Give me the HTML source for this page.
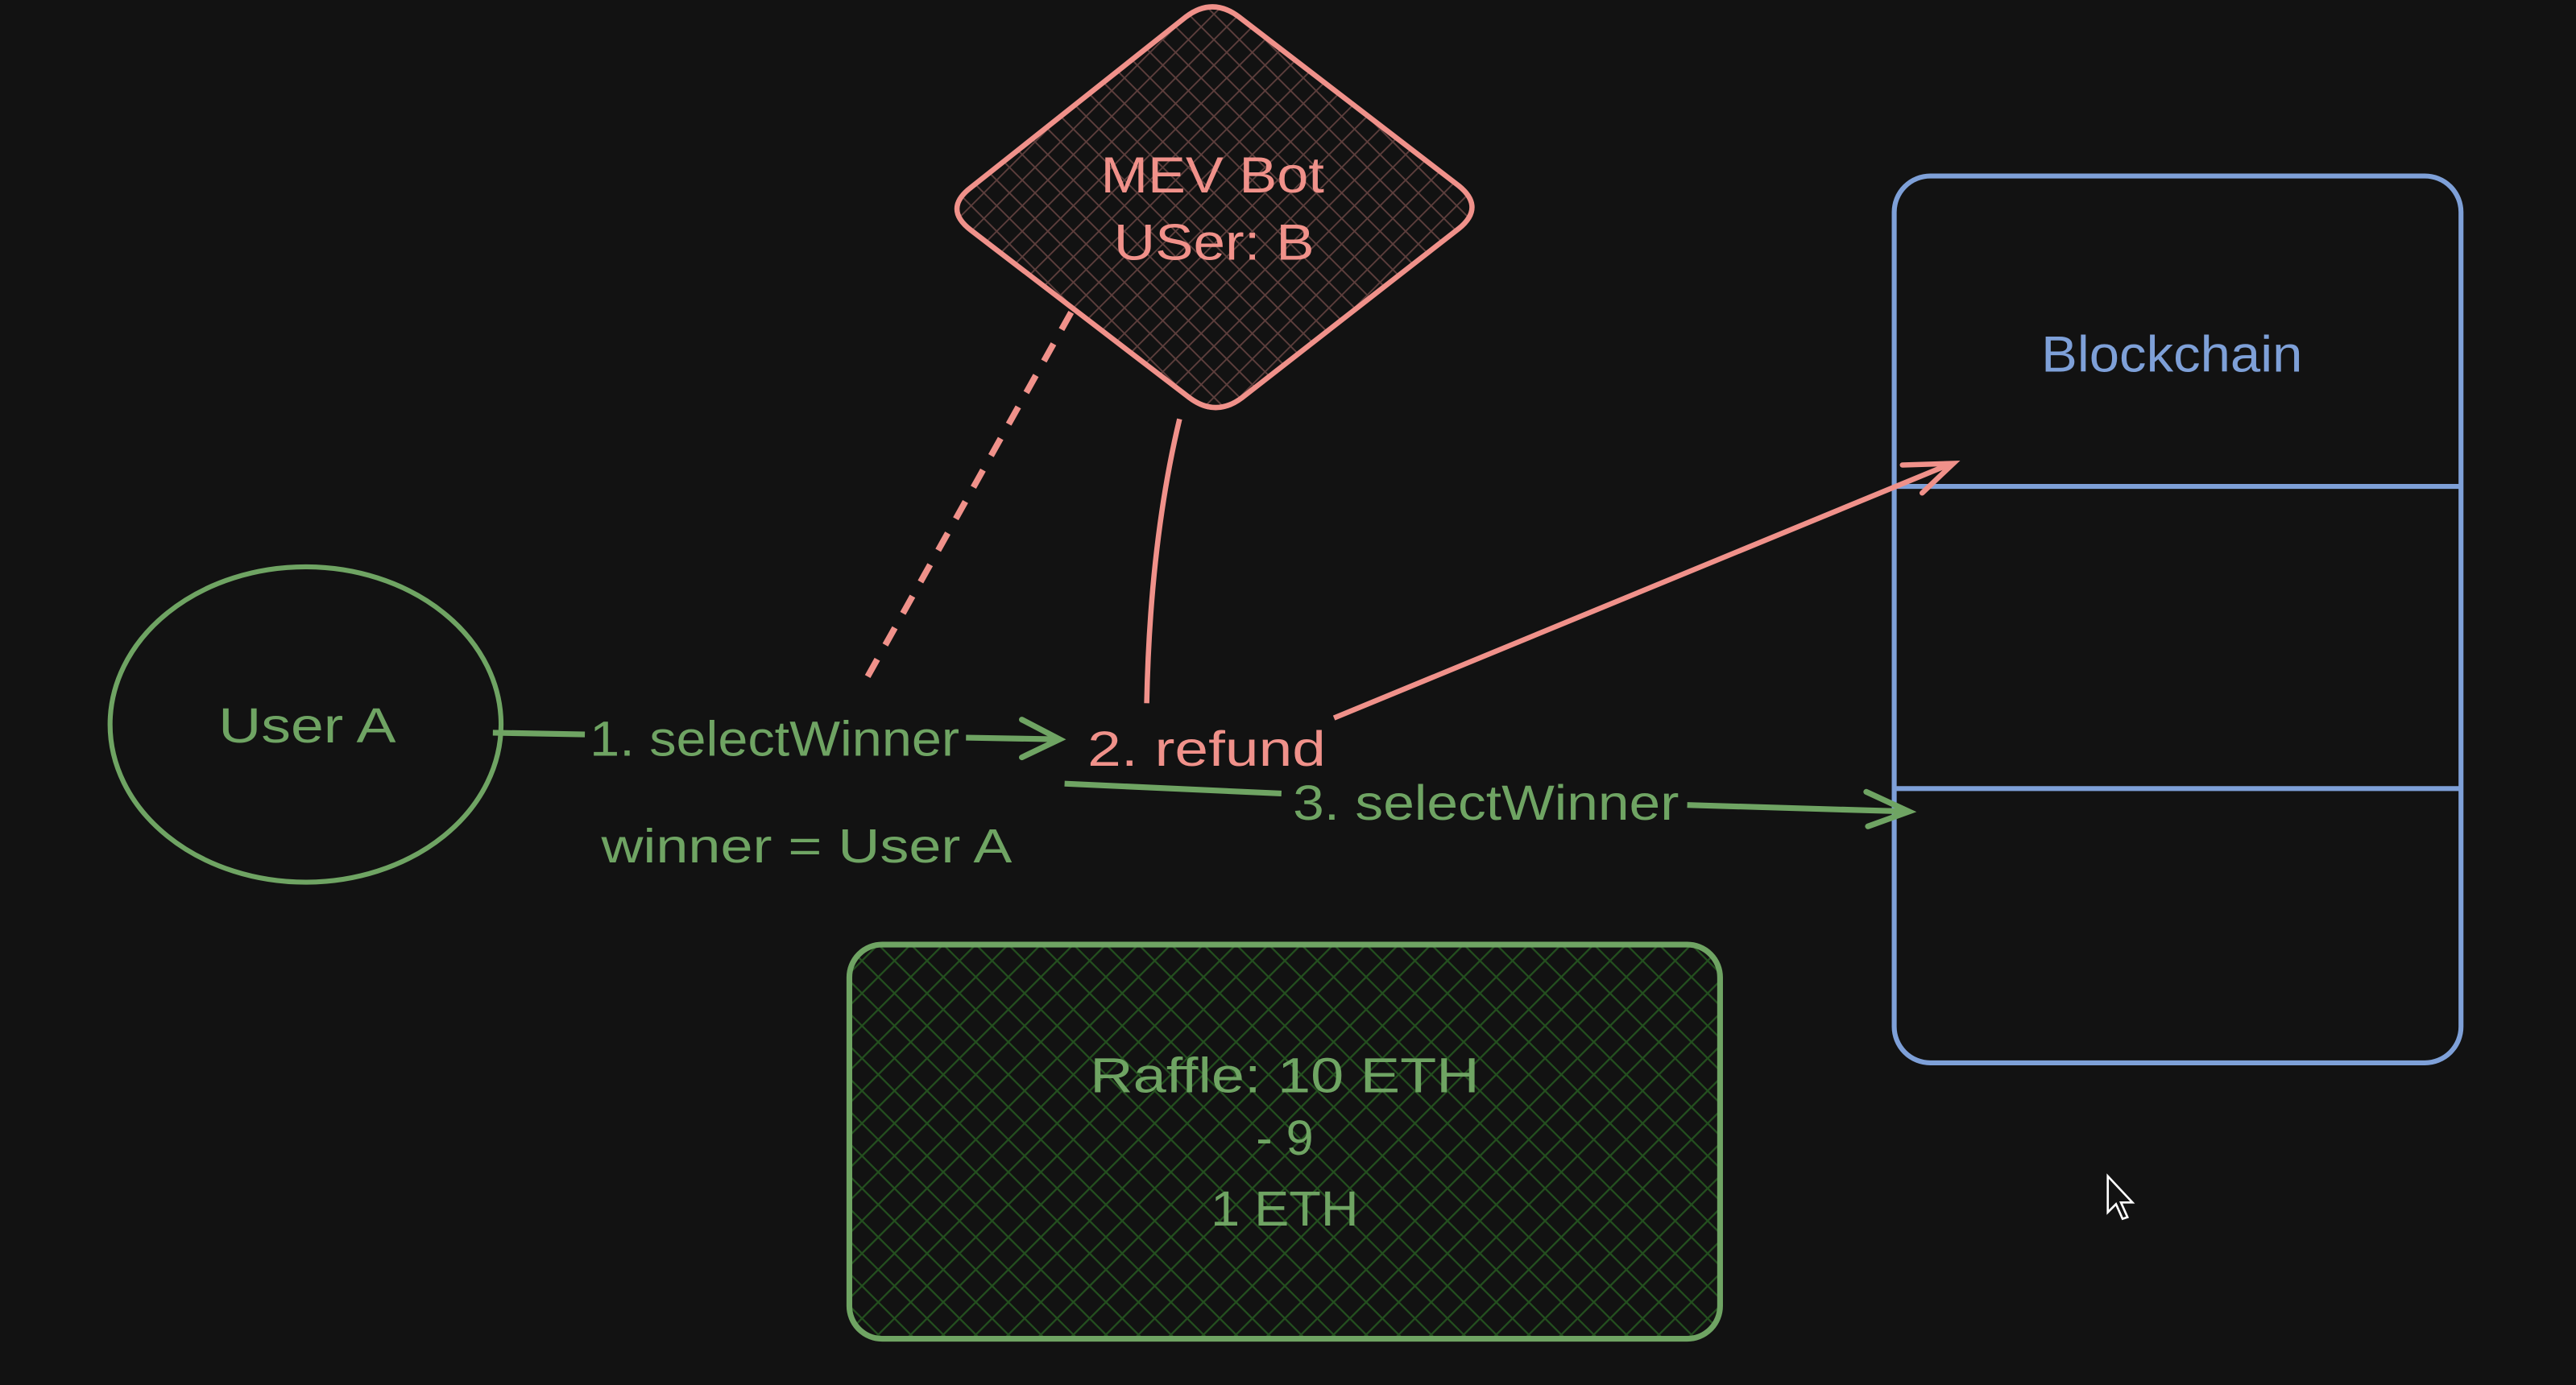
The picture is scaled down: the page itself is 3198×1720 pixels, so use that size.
<!DOCTYPE html>
<html><head><meta charset="utf-8"><style>
html,body{margin:0;padding:0;background:#121212;}
svg{display:block;}
text{font-family:"Liberation Sans",sans-serif;}
</style></head><body>
<svg width="3198" height="1720" viewBox="0 0 1568 843" xmlns="http://www.w3.org/2000/svg">
<defs>
<pattern id="hg" width="14" height="14" patternUnits="userSpaceOnUse" patternTransform="rotate(45)">
<rect width="14" height="14" fill="#121212"/>
<line x1="0" y1="0" x2="0" y2="14" stroke="#24501f" stroke-width="2.2"/>
<line x1="0" y1="0" x2="14" y2="0" stroke="#24501f" stroke-width="2.2"/>
</pattern>
<pattern id="hr" width="11" height="11" patternUnits="userSpaceOnUse" patternTransform="rotate(45)">
<rect width="11" height="11" fill="#121212"/>
<line x1="0" y1="0" x2="0" y2="11" stroke="#5e3f3d" stroke-width="1.8"/>
<line x1="0" y1="0" x2="11" y2="0" stroke="#5e3f3d" stroke-width="1.8"/>
</pattern>
</defs>
<rect width="1568" height="843" fill="#121212"/>

<!-- diamond -->
<path d="M722,10 Q738,-2 754,10 L888,113 Q904,126 888,139 L756,242 Q740,254 724,242 L591,140 Q574,127 591,114 Z" fill="url(#hr)" stroke="#f0918a" stroke-width="3.2"/>
<text x="738" y="117" fill="#f0918a" font-size="31" text-anchor="middle" textLength="136" lengthAdjust="spacingAndGlyphs">MEV Bot</text>
<text x="739" y="158" fill="#f0918a" font-size="31" text-anchor="middle" textLength="122" lengthAdjust="spacingAndGlyphs">USer: B</text>

<!-- ellipse -->
<ellipse cx="186" cy="441" rx="119" ry="96" fill="none" stroke="#6fa463" stroke-width="3"/>
<text x="187" y="452" fill="#6fa463" font-size="30" text-anchor="middle" textLength="108" lengthAdjust="spacingAndGlyphs">User A</text>

<!-- blockchain -->
<rect x="1153" y="107" width="345" height="540" rx="22" fill="none" stroke="#7ea0d8" stroke-width="3"/>
<line x1="1153" y1="296" x2="1498" y2="296" stroke="#7ea0d8" stroke-width="3"/>
<line x1="1153" y1="480" x2="1498" y2="480" stroke="#7ea0d8" stroke-width="3"/>
<text x="1322" y="226" fill="#7ea0d8" font-size="31" text-anchor="middle" textLength="159" lengthAdjust="spacingAndGlyphs">Blockchain</text>

<!-- raffle -->
<rect x="517" y="575" width="530" height="240" rx="20" fill="url(#hg)" stroke="#6fa463" stroke-width="3.5"/>
<text x="782" y="665" fill="#6fa463" font-size="30" text-anchor="middle" textLength="237" lengthAdjust="spacingAndGlyphs">Raffle: 10 ETH</text>
<text x="782" y="703" fill="#6fa463" font-size="30" text-anchor="middle">- 9</text>
<text x="782" y="746" fill="#6fa463" font-size="30" text-anchor="middle" textLength="90" lengthAdjust="spacingAndGlyphs">1 ETH</text>

<!-- arrow 1 -->
<line x1="300" y1="446" x2="356" y2="447" stroke="#6fa463" stroke-width="3.5"/>
<text x="359" y="460" fill="#6fa463" font-size="30" textLength="225" lengthAdjust="spacingAndGlyphs">1. selectWinner</text>
<line x1="588" y1="449" x2="644" y2="450" stroke="#6fa463" stroke-width="3.5"/>
<path d="M622,438 L645,450 L622,461" fill="none" stroke="#6fa463" stroke-width="3.5" stroke-linecap="round"/>

<text x="662" y="466" fill="#f0918a" font-size="30" textLength="145" lengthAdjust="spacingAndGlyphs">2. refund</text>

<!-- red arrow -->
<line x1="812" y1="437" x2="1188" y2="282" stroke="#f0918a" stroke-width="3.2"/>
<path d="M1158,283 L1189,282 L1170,300" fill="none" stroke="#f0918a" stroke-width="3.2" stroke-linecap="round"/>
<path d="M718,255 Q700,330 698,428" fill="none" stroke="#f0918a" stroke-width="3.2"/>
<line x1="652" y1="190" x2="528" y2="412" stroke="#f0918a" stroke-width="3.8" stroke-dasharray="12,10"/>

<!-- arrow 3 -->
<line x1="648" y1="477" x2="780" y2="483" stroke="#6fa463" stroke-width="3.5"/>
<text x="787" y="499" fill="#6fa463" font-size="30" textLength="235" lengthAdjust="spacingAndGlyphs">3. selectWinner</text>
<line x1="1027" y1="490" x2="1162" y2="494" stroke="#6fa463" stroke-width="3.5"/>
<path d="M1136,482 L1162,494 L1137,503" fill="none" stroke="#6fa463" stroke-width="3.5" stroke-linecap="round"/>

<text x="366" y="525" fill="#6fa463" font-size="29" textLength="250" lengthAdjust="spacingAndGlyphs">winner = User A</text>

<!-- cursor -->
<path d="M1283,716 L1283,738 L1288,733 L1292,742 L1295,741 L1291,732 L1298,732 Z" fill="#121212" stroke="#ffffff" stroke-width="1.3"/>
</svg>
</body></html>
